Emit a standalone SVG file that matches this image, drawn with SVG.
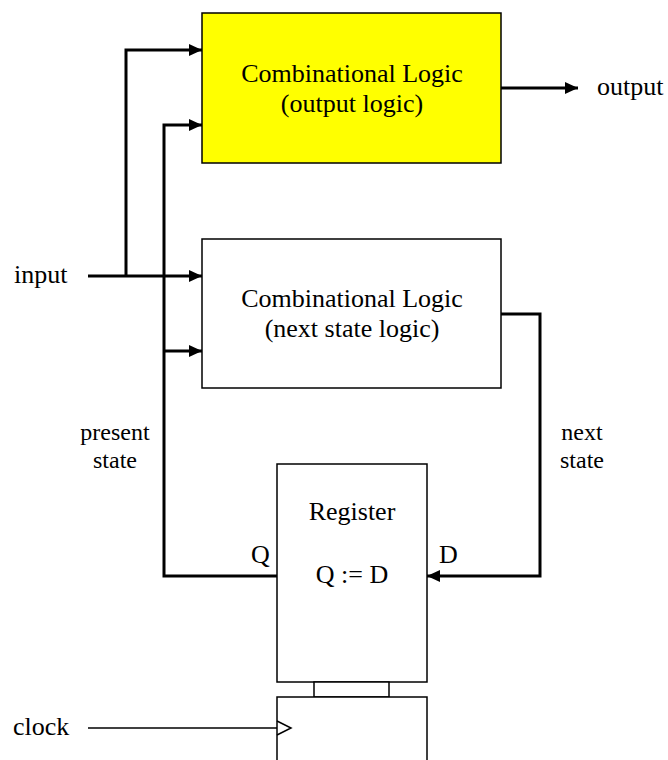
<svg xmlns="http://www.w3.org/2000/svg" width="668" height="760" viewBox="0 0 668 760">
<style>
text{font-family:"Liberation Serif","Times New Roman",serif;font-size:26px;fill:#000}
.s{font-size:24px}
.box{stroke:#000;stroke-width:1.5;fill:#fff}
.w{fill:none;stroke:#000;stroke-width:3}
.t{fill:none;stroke:#000;stroke-width:1.5}
.m{text-anchor:middle}
</style>
<defs>
<marker id="ah" markerWidth="13" markerHeight="12" refX="13" refY="6" orient="auto" markerUnits="userSpaceOnUse">
<path d="M0,0 L13,6 L0,12 Z" fill="#000"/>
</marker>
</defs>
<g id="output-logic">
<rect class="box" x="202" y="13" width="299" height="150" style="fill:#ffff00"/>
<text class="m" x="352" y="82">Combinational Logic</text>
<text class="m" x="352" y="112">(output logic)</text>
</g>
<g id="next-state-logic">
<rect class="box" x="202" y="239" width="299" height="149"/>
<text class="m" x="352" y="307">Combinational Logic</text>
<text class="m" x="352" y="337">(next state logic)</text>
</g>
<g id="register">
<rect class="box" x="277" y="464" width="150" height="218"/>
<rect class="box" x="314" y="682" width="75" height="15"/>
<rect class="box" x="277" y="697" width="150" height="70"/>
<path class="t" d="M277,721 L291,728 L277,735" fill="#fff"/>
<text class="m" x="352" y="520">Register</text>
<text class="m" x="352" y="583">Q := D</text>
<text x="251" y="563">Q</text>
<text x="439" y="563">D</text>
</g>
<g id="labels">
<text x="14" y="283">input</text>
<text x="13" y="735">clock</text>
<text x="597" y="95">output</text>
<text class="m s" x="115" y="440">present</text>
<text class="m s" x="115" y="468">state</text>
<text class="m s" x="582" y="440">next</text>
<text class="m s" x="582" y="468">state</text>
</g>
<g id="connectors">
<path class="w" d="M88,276 L202,276" marker-end="url(#ah)"/>
<path class="w" d="M126,276 L126,50 L202,50" marker-end="url(#ah)"/>
<path class="w" d="M277,576 L164,576 L164,125 L202,125" marker-end="url(#ah)"/>
<path class="w" d="M164,351 L202,351" marker-end="url(#ah)"/>
<path class="w" d="M501,88 L578,88" marker-end="url(#ah)"/>
<path class="w" d="M501,314 L540,314 L540,576 L427,576" marker-end="url(#ah)"/>
<path class="t" d="M88,728 L277,728"/>
</g>
</svg>
